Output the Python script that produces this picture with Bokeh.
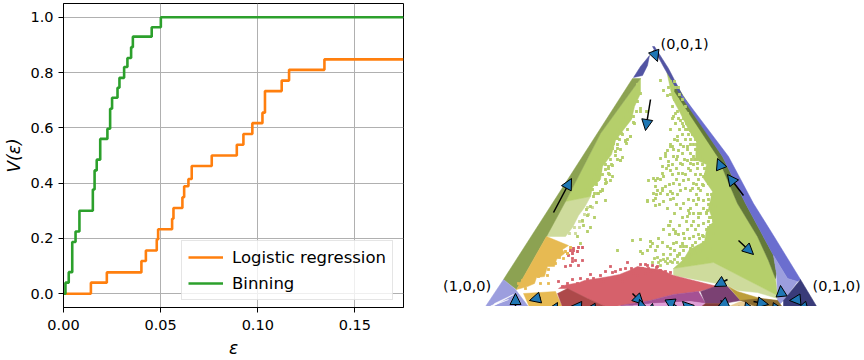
from bokeh.embed import file_html
from bokeh.resources import INLINE
from bokeh.core.properties import value
from bokeh.layouts import row
from bokeh.models import (Arrow, ColumnDataSource, FixedTicker, Legend, LegendItem,
                          NormalHead, NumeralTickFormatter, Range1d)
from bokeh.plotting import figure

# ---- left panel data
eps_logistic = [0, .0141, .0223, .0401, .0424, .048, .0487, .0559, .0566, .0612, .0621, .0643,
                .066, .0763, .0892, .0926, .0972, .1024, .1037, .1123, .1161, .1343, .175]
v_logistic = [0, .04, .077, .118, .156, .196, .233, .271, .31, .349, .389, .415,
              .462, .50, .539, .578, .617, .655, .733, .771, .81, .848, .848]
eps_binning = [0, .001, .0027, .0045, .0062, .0082, .0151, .016, .0171, .0189, .0226, .024, .025,
               .0278, .0288, .0312, .0329, .0348, .0357, .0454, .0501, .175]
v_binning = [0, .04, .078, .187, .225, .30, .377, .446, .485, .56, .597, .669, .709,
             .745, .781, .82, .853, .892, .93, .964, 1.0, 1.0]
x_ticks = [0, .05, .10, .15]
y_ticks = [0, .2, .4, .6, .8, 1.0]

# ---- right panel data: simplex plane, arbitrary units
region_colors = ["#cedb9c", "#b5cf6b", "#cedb9c", "#b5cf6b", "#8ca252", "#637939", "#5254a3", "#5254a3",
                 "#6b6ecf", "#9c9ede", "#393b79", "#9c9ede", "#e7ba52", "#e7ba52", "#d6616b", "#ad494a",
                 "#a55194", "#7b4173", "#de9ed6", "#843c39", "#e7cb94", "#bd9e39", "#8c6d31",
                 "#ffffff", "#ffffff"]
region_x = [
    [61, 81, 106, 100, 94, 88, 81],
    [81, 116, 156, 156, 150, 147, 140, 131, 127, 118, 116, 108, 106],
    [189, 229, 291, 293, 273, 253, 243, 216, 189],
    [182, 191, 223, 253, 273, 284, 291, 293, 229, 189, 199, 205, 220, 222, 229, 224, 228, 219, 222, 211, 212, 205, 196, 188],
    [19, 32, 62, 81, 116, 156, 148],
    [191, 198, 238, 261, 289, 292, 291, 284, 273, 253, 233, 190],
    [149, 158, 163, 165, 156],
    [168, 170, 184, 198, 196, 180],
    [198, 244, 269, 289, 316, 313, 303, 289, 261, 238, 196],
    [289, 303, 313, 299, 293, 293, 292],
    [316, 334, 299, 299],
    [19, 31, 46, -1],
    [62, 84, 78, 80, 72, 70, 63, 60, 52, 50, 43, 32],
    [39, 71, 79, 46],
    [74, 79, 95, 100, 113, 125, 135, 145, 153, 165, 176, 189, 233, 214, 189, 166, 136, 123, 103, 83],
    [73, 83, 103, 123, 123, 79],
    [136, 166, 189, 214, 221, 206, 169, 149],
    [216, 231, 243, 256, 239, 221],
    [149, 169, 206, 221, 213, 166],
    [221, 239, 239, 213],
    [239, 244, 256, 271, 269, 239],
    [244, 253, 276, 293, 276, 256],
    [256, 276, 293, 299, 299, 269, 271],
    [8, 29, 10],
    [4, 24, 7],
]
region_y = [
    [73, 108, 113, 102, 94, 82, 73],
    [108, 176, 231, 216, 203, 190, 181, 169, 155, 143, 130, 122, 113],
    [41, 47, 15, 11, 17, 19, 24, 29, 34],
    [239, 226, 176, 106, 73, 49, 31, 14, 47, 41, 50, 60, 68, 80, 88, 101, 118, 131, 145, 150, 168, 178, 196, 211],
    [30, 20, 73, 108, 176, 231, 231],
    [226, 214, 153, 106, 54, 36, 31, 49, 73, 106, 153, 218],
    [232, 234, 244, 254, 243],
    [263, 263, 241, 214, 214, 241],
    [214, 153, 106, 74, 30, 28, 31, 54, 106, 153, 214],
    [54, 31, 28, 9, 3, 16, 36],
    [30, 0, 0, 9],
    [30, 20, 0, 0],
    [73, 64, 60, 56, 50, 43, 43, 33, 32, 26, 23, 20],
    [16, 18, 0, 0],
    [21, 24, 27, 29, 31, 33, 35, 39, 43, 41, 40, 34, 23, 18, 15, 9, 4, 2, 11, 21],
    [16, 21, 11, 2, 0, 0],
    [4, 9, 15, 18, 6, 8, 6, 4],
    [18, 23, 23, 9, 6, 6],
    [4, 6, 8, 6, 0, 0],
    [6, 6, 0, 0],
    [1, 3, 8, 3, 0, 0],
    [23, 18, 11, 9, 9, 9],
    [9, 11, 9, 1, 0, 0, 3],
    [3, 15, 6],
    [2, 10, 4],
]

green_x = [193, 186, 183, 194, 199, 189, 184, 178, 196, 203, 186, 179, 194, 206, 213, 216, 209, 173, 171, 181,
           189, 199, 209, 219, 176, 186, 196, 206, 216, 224, 169, 179, 189, 199, 209, 219, 228, 204, 214, 223,
           231, 209, 219, 229, 191, 199, 209, 219, 229, 198, 186, 206, 216, 226, 174, 184, 211, 203, 193, 223,
           176, 233, 168, 191, 193, 189, 196, 203, 199, 206, 193, 188, 181, 184, 193, 203, 213, 216, 206, 198,
           178, 171, 164, 178, 188, 169, 163, 171, 176, 179, 176, 183, 146, 141, 133, 129, 136, 123, 128, 124,
           116, 128, 121, 116, 109, 121, 106, 103, 98, 103, 93, 96, 156, 153, 156, 149, 146, 141, 136, 128,
           124, 126, 114, 113, 131, 169, 171, 163, 173, 148, 156, 163, 166, 173, 156, 133, 158, 166, 166, 185,
           199, 189, 176, 203, 206, 216, 191, 181, 193, 199, 208, 218,
           203, 208, 212, 210, 216, 219, 214, 222, 224, 221, 205, 199, 195, 190, 186, 183, 179, 173, 168,
           162, 156, 150, 137, 142, 133, 138, 124, 122, 118, 112, 110, 102, 106, 99]
green_y = [169, 163, 159, 159, 163, 153, 148, 143, 146, 149, 139, 133, 136, 139, 146, 153, 153, 131, 123, 123,
           126, 129, 126, 133, 116, 118, 119, 119, 119, 126, 109, 108, 111, 106, 109, 109, 113, 99, 96, 99,
           103, 88, 86, 89, 78, 76, 73, 73, 76, 66, 61, 61, 59, 61, 71, 84, 56, 51, 53, 51,
           44, 83, 66, 196, 206, 193, 189, 196, 183, 179, 173, 163, 153, 144, 153, 163, 169, 163, 146, 136,
           136, 129, 129, 119, 116, 116, 108, 104, 151, 219, 229, 214, 173, 169, 171, 166, 149, 156, 144, 136,
           139, 133, 126, 118, 113, 109, 103, 94, 89, 78, 73, 66, 216, 208, 198, 193, 173, 168, 149, 161,
           143, 129, 116, 133, 158, 131, 111, 109, 119, 69, 70, 59, 68, 63, 58, 59, 56, 63, 68, 84,
           76, 66, 49, 93, 101, 96, 76, 48, 54, 63, 64, 74,
           186, 176, 165, 150, 135, 124, 111, 97, 82, 66, 52, 48, 56, 50, 48, 46, 50, 52, 47,
           198, 201, 186, 176, 166, 161, 152, 141, 127, 119, 107, 92, 100, 82, 84]
green_rows = [
    (228, [186, 190]), (222, [184, 191, 194]), (215, [186, 195]), (210, [190, 198, 193]),
    (203, [188, 196, 201]), (198, [193, 200]), (191, [188, 194, 204, 199]), (186, [191, 198, 202]),
    (180, [186, 195, 201, 203]), (175, [198, 204, 208]), (170, [190, 201, 206, 211]),
    (165, [186, 196, 209, 206]), (160, [189, 203, 211, 213]), (156, [181, 198, 206, 214]),
    (150, [192, 200, 207, 212, 218]), (145, [188, 198, 209, 218]), (141, [182, 192, 204, 213, 220]),
    (135, [188, 201, 211, 221]), (130, [176, 192, 204, 214, 222]), (125, [185, 195, 212, 218, 226]),
    (121, [178, 201, 208, 214]), (115, [172, 183, 193, 212, 223, 227]), (110, [186, 204, 214, 224]),
    (105, [175, 192, 212, 227, 224]), (101, [183, 196, 219, 226]), (96, [190, 205, 209, 222, 228]),
    (92, [198, 214, 225, 227]), (88, [186, 202, 224]), (84, [195, 207, 214, 226, 229]),
    (80, [179, 189, 203, 211, 222]), (75, [185, 194, 214, 224]), (71, [200, 205, 215, 223]),
    (67, [178, 192, 211, 219]), (63, [183, 196, 202, 214, 218]), (59, [171, 190, 199, 210]),
    (55, [179, 186, 195, 205, 207]), (51, [170, 183, 198, 200]), (47, [174, 188, 193, 205, 211]),
    (225, [153]), (220, [152, 154]), (212, [151, 146]), (205, [148, 143]), (198, [143, 147, 152]),
    (192, [139, 146]), (187, [136, 141, 149]), (180, [133, 143]), (175, [130, 138]),
    (170, [126, 135, 143]), (165, [128, 133]), (160, [124, 121, 136]), (154, [120, 131]),
    (150, [117, 126, 133]), (145, [115, 121, 127]), (140, [112, 121]), (135, [110, 118, 125]),
    (130, [107, 114, 121]), (125, [105, 112]), (120, [101, 108, 118]), (116, [113, 110]),
]
pale_rows = [(102, [103, 108]), (95, [100, 104]), (88, [95, 98]), (82, [90, 95]), (76, [85, 91])]
red_x = [89, 94, 88, 84, 93, 98, 91, 88, 86, 83, 88, 86, 81, 89, 98, 94, 74, 83, 78, 93, 103, 109, 126, 131, 143,
         141, 154, 149, 123, 133, 163, 166, 119, 143, 153, 161, 138, 161, 158, 164, 169, 176, 173,
         88, 96, 106, 116, 121, 128, 136, 147, 156, 168, 172, 181, 186]
red_y = [61, 62, 56, 54, 58, 49, 49, 48, 59, 56, 51, 44, 43, 59, 62, 44, 28, 26, 23, 26, 30, 31, 43, 38, 47,
         41, 41, 36, 31, 31, 44, 38, 28, 31, 34, 36, 28, 45, 41, 41, 39, 39, 43,
         30, 31, 35, 34, 38, 37, 40, 41, 45, 44, 42, 38, 37]
yellow_x = [64, 63, 54, 56, 46, 41, 81, 79, 49, 34, 64, 86, 83, 75, 71, 66, 58, 55, 47, 43, 38]
yellow_y = [40, 34, 33, 26, 31, 21, 58, 51, 34, 26, 26, 62, 56, 52, 46, 49, 39, 44, 27, 36, 29]

arrow_x0 = [69, 166, 169, 259, 237, 254, 297, 316, 323, 243, 236, 269, 254, 284, 238, 189, 186, 206, 166, 148, 158, 134, 116, 68, 56, 31]
arrow_y0 = [97, 210, 259, 114, 141, 69, 14, 10, 3, 30, 9, 8, 3, 2, -6, 0, 10, 0, -4, 16, 0, 1, 1, -2, 12, 2]
arrow_x1 = [87, 161, 173, 243, 233, 269, 296, 305, 312, 230, 246, 284, 271, 299, 232, 184, 187, 198, 168, 159, 155, 86, 100, 73, 45, 31]
arrow_y1 = [131, 179, 248, 135, 151, 55, 24, 9, 0, 23, 1, 5, 0, 0, 3, 9, -1, 8, 6, 5, 10, 3, 0, 7, 9, 16]

corner_labels = ["(0,0,1)", "(1,0,0)", "(0,1,0)"]
corner_x = [176, -41.5, 328]
corner_y = [266, 24, 24]

FONT = "DejaVu Sans"

# ---- left panel
p1 = figure(width=432, height=360, x_range=Range1d(0, 0.175), y_range=Range1d(-0.05, 1.05),
            output_backend="svg", toolbar_location=None,
            min_border_left=63, min_border_right=29, min_border_top=3, min_border_bottom=53,
            x_axis_label="ε", y_axis_label="V(ε)")
p1.margin = (0, 0, 0, 0)
p1.outline_line_color = "black"
p1.outline_line_width = 1
p1.background_fill_color = "white"
for ax, ticks, fmt in ((p1.xaxis[0], x_ticks, "0.00"), (p1.yaxis[0], y_ticks, "0.0")):
    ax.ticker = FixedTicker(ticks=ticks)
    ax.formatter = NumeralTickFormatter(format=fmt)
    ax.major_label_text_font = FONT
    ax.major_label_text_font_size = "14.5px"
    ax.major_label_text_color = "black"
    ax.axis_label_text_font = FONT
    ax.axis_label_text_font_size = "17px"
    ax.axis_label_text_font_style = "italic"
    ax.axis_label_text_color = "black"
    ax.axis_line_color = "black"
    ax.major_tick_line_color = "black"
    ax.major_tick_out = 5
    ax.major_tick_in = 0
    ax.minor_tick_line_color = None
    ax.axis_label_standoff = 5
p1.xaxis[0].major_label_standoff = 7
p1.yaxis[0].axis_label_standoff = 3
p1.xgrid.grid_line_color = "#b0b0b0"
p1.ygrid.grid_line_color = "#b0b0b0"
p1.xgrid.grid_line_width = 1
p1.ygrid.grid_line_width = 1

r_log = p1.step(eps_logistic, v_logistic, mode="after", line_color="#ff7f0e", line_width=2.6)
r_bin = p1.step(eps_binning, v_binning, mode="after", line_color="#2ca02c", line_width=2.6)

legend = Legend(items=[LegendItem(label="Logistic regression", renderers=[r_log]),
                       LegendItem(label="Binning", renderers=[r_bin])],
                location=(118, 7), orientation="vertical",
                label_text_font=FONT, label_text_font_size="16.5px", label_text_color="black",
                glyph_width=35, glyph_height=20, label_standoff=9, label_height=20,
                spacing=6, padding=6, margin=0,
                border_line_color="#cccccc", border_line_width=1,
                background_fill_color="white", background_fill_alpha=0.8)
p1.add_layout(legend)

# ---- right panel
p2 = figure(frame_width=432, frame_height=306, x_range=Range1d(-52, 380), y_range=Range1d(0, 306),
            output_backend="svg", toolbar_location=None, min_border=0,
            x_axis_location=None, y_axis_location=None)
p2.margin = (0, 0, 0, 0)
p2.grid.visible = False
p2.outline_line_color = None

p2.patches(region_x, region_y, fill_color=region_colors, line_color=region_colors, line_width=0.5)
for rows, color in ((green_rows, "#b5cf6b"), (pale_rows, "#cedb9c")):
    row_x = [x for y, xs in rows for x in xs]
    row_y = [y for y, xs in rows for x in xs]
    p2.scatter(row_x, row_y, marker="square", size=2.8, fill_color=color, line_color=None)
p2.scatter(green_x, green_y, marker="square", size=2.8, fill_color="#b5cf6b", line_color=None)
p2.scatter(red_x, red_y, marker="square", size=2.8, fill_color="#d6616b", line_color=None)
p2.scatter(yellow_x, yellow_y, marker="square", size=2.8, fill_color="#e7ba52", line_color=None)

arrow_source = ColumnDataSource(dict(x0=arrow_x0, y0=arrow_y0, x1=arrow_x1, y1=arrow_y1))
p2.add_layout(Arrow(end=NormalHead(size=11, fill_color="#1f77b4", line_color="black", line_width=1),
                    x_start="x0", y_start="y0", x_end="x1", y_end="y1", source=arrow_source,
                    line_color="black", line_width=1.5))

p2.text(corner_x, corner_y, text=corner_labels, text_font=value(FONT), text_font_size="14.5px",
        text_color="black", text_baseline="middle", text_align="left")

layout = row(p1, p2)
open("out.html", "w").write(file_html(layout, INLINE))
